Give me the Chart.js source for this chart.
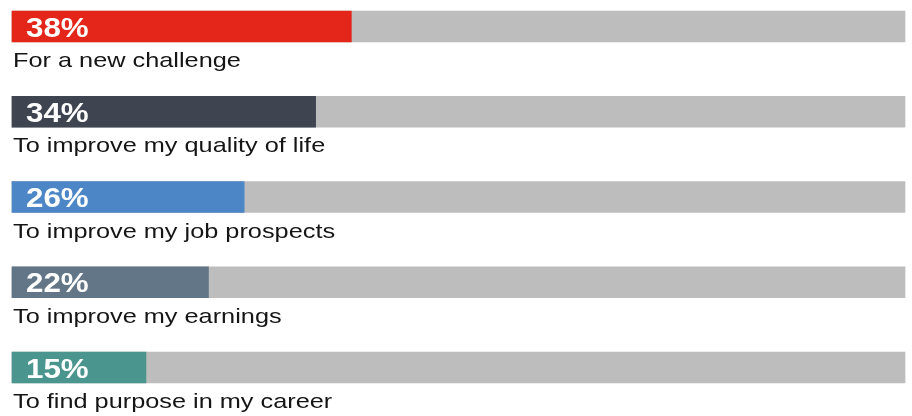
<!DOCTYPE html>
<html>
<head>
<meta charset="utf-8">
<script src="https://cdn.jsdelivr.net/npm/chart.js@4"></script>
<style>
  html, body { margin: 0; padding: 0; background: #ffffff; }
  #wrap { width: 912px; height: 416px; position: relative; }
</style>
</head>
<body>
<div id="wrap"><canvas id="chart"></canvas></div>
<script>
// Reasons, share of respondents (%)
const categories = [
  "For a new challenge",
  "To improve my quality of life",
  "To improve my job prospects",
  "To improve my earnings",
  "To find purpose in my career"
];
const values = [38, 34, 26, 22, 15];
const trackValues = [100, 100, 100, 100, 100];

// Bar colours, one per category
const barColors = ["#e32619", "#3e4450", "#4d86c6", "#637687", "#4a968f"];
const trackColor = "#bdbdbd";

// the reference type is an extended sans, so stretch Liberation sideways
function wideText(ctx, text, x, y, stretch) {
  ctx.save();
  ctx.translate(x, y);
  ctx.scale(stretch, 1);
  ctx.fillText(text, 0, 0);
  ctx.restore();
}

// Draws the % inside each bar and the category name below it
const labelPlugin = {
  id: "barLabels",
  afterDatasetsDraw(chart) {
    const ctx = chart.ctx;
    const bars = chart.getDatasetMeta(1).data;
    const x0 = chart.scales.x.getPixelForValue(0);
    ctx.save();
    ctx.textAlign = "left";
    ctx.textBaseline = "alphabetic";
    bars.forEach((bar, i) => {
      const bottom = bar.y + bar.height / 2;

      ctx.fillStyle = "#ffffff";
      ctx.font = "bold 27px 'Liberation Sans', Arial, sans-serif";
      wideText(ctx, values[i] + "%", x0 + 14, bar.y + 10, 1.16);

      ctx.fillStyle = "#151515";
      ctx.font = "21px 'Liberation Sans', Arial, sans-serif";
      wideText(ctx, categories[i], x0 + 1, bottom + 25, 1.205);
    });
    ctx.restore();
  }
};

new Chart(document.getElementById("chart"), {
  type: "bar",
  plugins: [labelPlugin],
  data: {
    labels: categories,
    datasets: [
      {
        // grey 100% track behind each bar
        data: trackValues,
        backgroundColor: trackColor,
        grouped: false,
        order: 2,
        barThickness: 31,
        clip: false
      },
      {
        data: values,
        backgroundColor: barColors,
        grouped: false,
        order: 1,
        barThickness: 31,
        clip: false
      }
    ]
  },
  options: {
    indexAxis: "y",
    responsive: true,
    maintainAspectRatio: false,
    animation: false,
    layout: {
      padding: { top: 26.5, bottom: 48.5, left: 12, right: 7 }
    },
    scales: {
      x: { display: false, min: 0, max: 100 },
      y: { display: false, offset: false }
    },
    plugins: {
      legend: { display: false },
      tooltip: { enabled: false }
    }
  }
});
</script>
</body>
</html>
